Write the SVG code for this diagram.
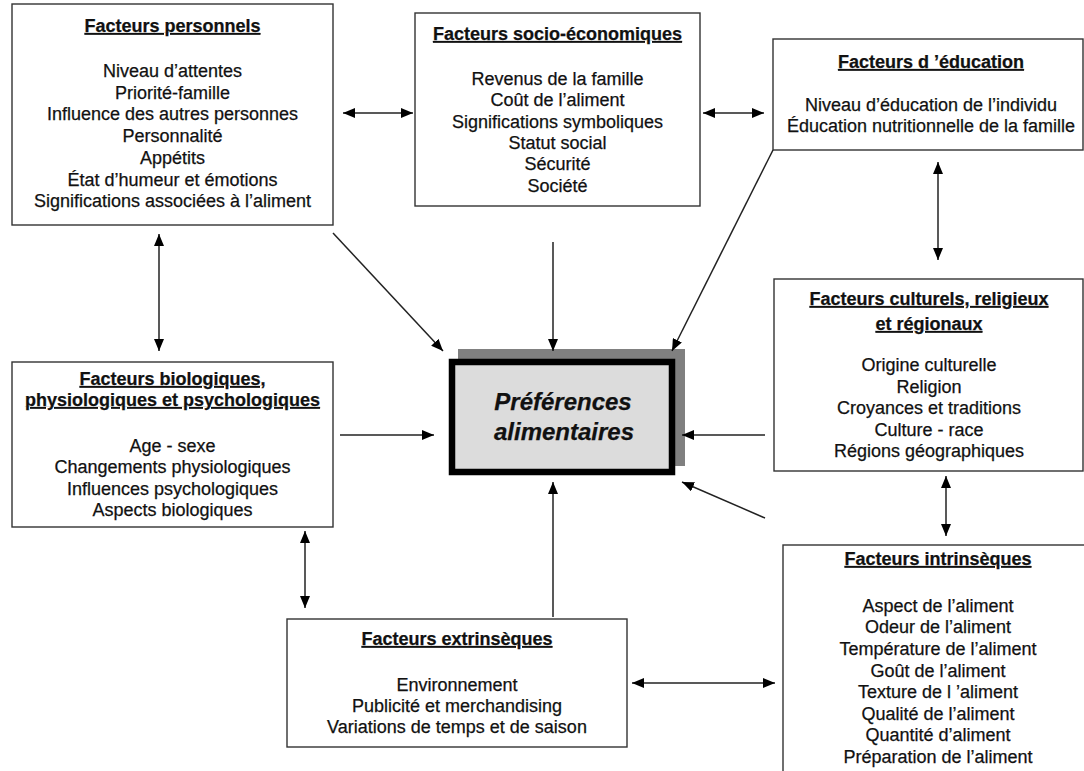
<svg xmlns="http://www.w3.org/2000/svg" width="1084" height="771" viewBox="0 0 1084 771">
<style>
.box{fill:#fff;stroke:#333;stroke-width:1.4}
text{font-family:"Liberation Sans",Arial,sans-serif;font-size:18px;fill:#111;text-anchor:middle;stroke:#111;stroke-width:0.25}
.t{font-weight:bold;text-decoration:underline}
.c{font-size:24px;font-weight:bold;font-style:italic}
.ln{stroke:#222;stroke-width:1.5;fill:none}
</style>
<defs>
<marker id="ah" viewBox="0 0 12 10" refX="12" refY="5" markerWidth="12" markerHeight="10" markerUnits="userSpaceOnUse" orient="auto-start-reverse">
<path d="M0,0 L12,5 L0,10 z" fill="#000"/>
</marker>
</defs>
<rect width="1084" height="771" fill="#fff"/>

<g id="personnels">
<rect class="box" x="12" y="4" width="321" height="221"/>
<text class="t" x="172.5" y="32">Facteurs personnels</text>
<text x="172.5" y="77">Niveau d’attentes</text>
<text x="172.5" y="98.5">Priorité-famille</text>
<text x="172.5" y="120">Influence des autres personnes</text>
<text x="172.5" y="142">Personnalité</text>
<text x="172.5" y="164">Appétits</text>
<text x="172.5" y="185.5">État d’humeur et émotions</text>
<text x="172.5" y="207">Significations associées à l’aliment</text>
</g>

<g id="socio">
<rect class="box" x="415" y="13" width="285" height="193"/>
<text class="t" x="557.5" y="40">Facteurs socio-économiques</text>
<text x="557.5" y="85">Revenus de la famille</text>
<text x="557.5" y="106">Coût de l’aliment</text>
<text x="557.5" y="127.5">Significations symboliques</text>
<text x="557.5" y="149">Statut social</text>
<text x="557.5" y="170">Sécurité</text>
<text x="557.5" y="191.5">Société</text>
</g>

<g id="education">
<rect class="box" x="773" y="39" width="310" height="111"/>
<text class="t" x="931" y="68">Facteurs d ’éducation</text>
<text x="931" y="111">Niveau d’éducation de l’individu</text>
<text x="931" y="132">Éducation nutritionnelle de la famille</text>
</g>

<g id="culturels">
<rect class="box" x="774" y="279" width="309" height="192"/>
<text class="t" x="929" y="305">Facteurs culturels, religieux</text>
<text class="t" x="929" y="330">et régionaux</text>
<text x="929" y="371">Origine culturelle</text>
<text x="929" y="393">Religion</text>
<text x="929" y="414">Croyances et traditions</text>
<text x="929" y="436">Culture - race</text>
<text x="929" y="457">Régions géographiques</text>
</g>

<g id="biologiques">
<rect class="box" x="12" y="362" width="321" height="165"/>
<text class="t" x="172.5" y="385">Facteurs biologiques,</text>
<text class="t" x="172.5" y="406">physiologiques et psychologiques</text>
<text x="172.5" y="452">Age - sexe</text>
<text x="172.5" y="473">Changements physiologiques</text>
<text x="172.5" y="495">Influences psychologiques</text>
<text x="172.5" y="516">Aspects biologiques</text>
</g>

<g id="extrinseques">
<rect class="box" x="287" y="619" width="340" height="128"/>
<text class="t" x="457" y="645">Facteurs extrinsèques</text>
<text x="457" y="691">Environnement</text>
<text x="457" y="712">Publicité et merchandising</text>
<text x="457" y="733">Variations de temps et de saison</text>
</g>

<g id="intrinseques">
<rect class="box" x="783" y="545" width="310" height="240"/>
<text class="t" x="938" y="565">Facteurs intrinsèques</text>
<text x="938" y="612">Aspect de l’aliment</text>
<text x="938" y="633">Odeur de l’aliment</text>
<text x="938" y="655">Température de l’aliment</text>
<text x="938" y="677">Goût de l’aliment</text>
<text x="938" y="698">Texture de l ’aliment</text>
<text x="938" y="720">Qualité de l’aliment</text>
<text x="938" y="741">Quantité d’aliment</text>
<text x="938" y="763">Préparation de l’aliment</text>
</g>

<g id="centre">
<rect x="458" y="349" width="227" height="117" fill="#808080"/>
<rect x="452" y="362" width="220" height="110" fill="#dcdcdc" stroke="#000" stroke-width="6.5"/>
<text class="c" x="563" y="410">Préférences</text>
<text class="c" x="564" y="440">alimentaires</text>
</g>

<g id="connectors">
<line class="ln" x1="343" y1="113" x2="413" y2="113" marker-start="url(#ah)" marker-end="url(#ah)"/>
<line class="ln" x1="703" y1="113" x2="764" y2="113" marker-start="url(#ah)" marker-end="url(#ah)"/>
<line class="ln" x1="159" y1="234" x2="159" y2="351" marker-start="url(#ah)" marker-end="url(#ah)"/>
<line class="ln" x1="305" y1="531" x2="305" y2="608" marker-start="url(#ah)" marker-end="url(#ah)"/>
<line class="ln" x1="938" y1="162" x2="938" y2="260" marker-start="url(#ah)" marker-end="url(#ah)"/>
<line class="ln" x1="946" y1="476" x2="946" y2="536" marker-start="url(#ah)" marker-end="url(#ah)"/>
<line class="ln" x1="632" y1="683" x2="775" y2="683" marker-start="url(#ah)" marker-end="url(#ah)"/>
<line class="ln" x1="333" y1="233" x2="443" y2="351" marker-end="url(#ah)"/>
<line class="ln" x1="553" y1="242" x2="553" y2="351" marker-end="url(#ah)"/>
<line class="ln" x1="773" y1="150" x2="672" y2="351" marker-end="url(#ah)"/>
<line class="ln" x1="340" y1="435" x2="434" y2="435" marker-end="url(#ah)"/>
<line class="ln" x1="765" y1="435" x2="682" y2="435" marker-end="url(#ah)"/>
<line class="ln" x1="765" y1="518" x2="682" y2="482" marker-end="url(#ah)"/>
<line class="ln" x1="553" y1="617" x2="553" y2="482" marker-end="url(#ah)"/>
</g>
</svg>
